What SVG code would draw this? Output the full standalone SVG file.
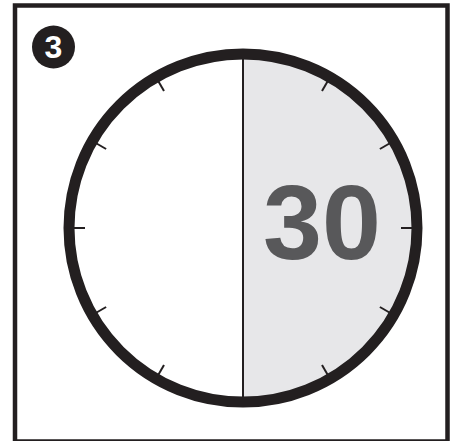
<svg xmlns="http://www.w3.org/2000/svg" width="456" height="441" viewBox="0 0 456 441">
<style>
.tick{stroke:#231f20;stroke-width:2;fill:none}
</style>
<rect width="456" height="441" fill="#fff"/>
<g id="frame"><rect x="15" y="5.5" width="432.5" height="436" fill="none" stroke="#231f20" stroke-width="4.5"/></g>
<g id="badge">
<circle cx="53.5" cy="47" r="21.5" fill="#231f20"/>
<text x="53.5" y="58" text-anchor="middle" font-family="Liberation Sans Narrow, Liberation Sans, sans-serif" font-weight="bold" font-size="32" fill="#fff">3</text>
</g>
<g id="clock">
<path d="M243 54 A174 174 0 0 1 243 402 Z" fill="#e7e7e9"/>
<g id="ticks">
<line class="tick" x1="327.5" y1="81.6" x2="322" y2="91.1"/>
<line class="tick" x1="389.4" y1="143.5" x2="379.9" y2="149"/>
<line class="tick" x1="412" y1="228" x2="401" y2="228"/>
<line class="tick" x1="389.4" y1="312.5" x2="379.9" y2="307"/>
<line class="tick" x1="327.5" y1="374.4" x2="322" y2="364.9"/>
<line class="tick" x1="158.5" y1="374.4" x2="164" y2="364.9"/>
<line class="tick" x1="96.6" y1="312.5" x2="106.1" y2="307"/>
<line class="tick" x1="74" y1="228" x2="85" y2="228"/>
<line class="tick" x1="96.6" y1="143.5" x2="106.1" y2="149"/>
<line class="tick" x1="158.5" y1="81.6" x2="164" y2="91.1"/>
</g>
<line x1="243" y1="54" x2="243" y2="402" stroke="#231f20" stroke-width="2"/>
<circle cx="243" cy="228" r="174" fill="none" stroke="#231f20" stroke-width="11"/>
<text x="322" y="259" text-anchor="middle" font-family="Liberation Sans, Arial, sans-serif" font-weight="bold" font-size="106" fill="#58585a">30</text>
</g>
</svg>
